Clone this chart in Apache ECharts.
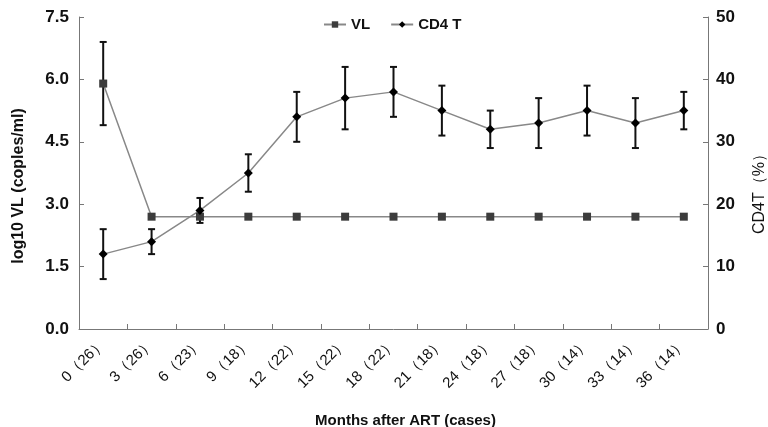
<!DOCTYPE html>
<html>
<head>
    <meta charset="utf-8">
    <title>VL / CD4 T</title>
    <script src="https://cdn.jsdelivr.net/npm/echarts@6/dist/echarts.min.js"></script>
    <style>
        body { margin: 0; background: #fff; }
        #main { width: 768px; height: 427px; }
    </style>
</head>
<body>
<div id="main"></div>
<script type="text/javascript">
    // months after ART (cases)
    var months = ['0（26）', '3（26）', '6（23）', '9（18）', '12（22）', '15（22）', '18（22）',
                  '21（18）', '24（18）', '27（18）', '30（14）', '33（14）', '36（14）'];
    // log10 VL mean and error
    var vlMean = [5.9, 2.7, 2.7, 2.7, 2.7, 2.7, 2.7, 2.7, 2.7, 2.7, 2.7, 2.7, 2.7];
    var vlErr  = [1.0, 0, 0, 0, 0, 0, 0, 0, 0, 0, 0, 0, 0];
    // CD4 T (%) mean and error
    var cd4Mean = [12, 14, 19, 25, 34, 37, 38, 35, 32, 33, 35, 33, 35];
    var cd4Err  = [4, 2, 2, 3, 4, 5, 4, 4, 3, 4, 4, 4, 3];
    // tick labels
    var vlTicks = [0, 1.5, 3.0, 4.5, 6.0, 7.5];
    var cd4Ticks = [0, 10, 20, 30, 40, 50];

    var font = 'Liberation Sans, Arial, sans-serif';

    function errData(mean, err) {
        var out = [];
        for (var i = 0; i < mean.length; i++) {
            out.push([i, mean[i] - err[i], mean[i] + err[i]]);
        }
        return out;
    }

    // 误差线：竖线 + 上下短横
    function renderErr(params, api) {
        var lo = api.value(1), hi = api.value(2);
        if (hi === lo) return null;
        var top = api.coord([api.value(0), hi]);
        var bot = api.coord([api.value(0), lo]);
        var cap = 3.5;
        var st = { stroke: '#111', lineWidth: 2 };
        return {
            type: 'group',
            children: [
                { type: 'line', shape: { x1: top[0], y1: top[1], x2: bot[0], y2: bot[1] }, style: st },
                { type: 'line', shape: { x1: top[0] - cap, y1: top[1], x2: top[0] + cap, y2: top[1] }, style: st },
                { type: 'line', shape: { x1: bot[0] - cap, y1: bot[1], x2: bot[0] + cap, y2: bot[1] }, style: st }
            ]
        };
    }

    var axisLine = { show: true, lineStyle: { color: '#777', width: 1 } };
    var axisTick = { show: true, inside: true, length: 5, lineStyle: { color: '#777' } };

    var myChart = echarts.init(document.getElementById('main'));
    var option = {
        animation: false,
        textStyle: { fontFamily: font },
        legend: {
            top: 12,
            left: 318,
            itemWidth: 22,
            itemHeight: 8,
            itemGap: 20,
            data: ['VL', 'CD4 T'],
            textStyle: { fontFamily: font, fontSize: 15, fontWeight: 'bold', color: '#111' }
        },
        grid: { left: 79, right: 60, top: 17, bottom: 98, outerBoundsMode: 'none', containLabel: false },
        xAxis: {
            type: 'category',
            data: months,
            boundaryGap: true,
            axisLine: axisLine,
            axisTick: axisTick,
            splitLine: { show: false },
            axisLabel: { rotate: 45, interval: 0, margin: 12, fontSize: 15, color: '#111', fontFamily: font },
            name: 'Months after ART (cases)',
            nameLocation: 'middle',
            nameGap: 84,
            nameTextStyle: { fontSize: 15, fontWeight: 'bold', color: '#111', fontFamily: font, padding: [0, 0, 0, 24] }
        },
        yAxis: [{
            type: 'value',
            min: vlTicks[0],
            max: vlTicks[vlTicks.length - 1],
            interval: 1.5,
            axisLine: axisLine,
            axisTick: axisTick,
            splitLine: { show: false },
            axisLabel: {
                margin: 10, fontSize: 17, fontWeight: 'bold', color: '#111', fontFamily: font,
                formatter: function (v) { return v.toFixed(1); }
            },
            name: 'log10 VL (coples/ml)',
            nameLocation: 'middle',
            nameGap: 52,
            nameRotate: 90,
            nameTextStyle: { fontSize: 16, fontWeight: 'bold', color: '#111', fontFamily: font, padding: [0, 26, 0, 0] }
        }, {
            type: 'value',
            min: cd4Ticks[0],
            max: cd4Ticks[cd4Ticks.length - 1],
            interval: 10,
            position: 'right',
            axisLine: axisLine,
            axisTick: axisTick,
            splitLine: { show: false },
            axisLabel: { margin: 8, fontSize: 17, fontWeight: 'bold', color: '#111', fontFamily: font },
            name: 'CD4T（%）',
            nameLocation: 'middle',
            nameGap: 44,
            nameRotate: 90,
            nameTextStyle: { fontSize: 16, color: '#111', fontFamily: font, padding: [0, 34, 0, 0] }
        }],
        series: [{
            name: 'VL-err',
            type: 'custom',
            yAxisIndex: 0,
            renderItem: renderErr,
            encode: { x: 0, y: [1, 2] },
            data: errData(vlMean, vlErr),
            z: 1
        }, {
            name: 'CD4-err',
            type: 'custom',
            yAxisIndex: 1,
            renderItem: renderErr,
            encode: { x: 0, y: [1, 2] },
            data: errData(cd4Mean, cd4Err),
            z: 1
        }, {
            name: 'VL',
            type: 'line',
            yAxisIndex: 0,
            data: vlMean,
            symbol: 'rect',
            symbolSize: 8,
            itemStyle: { color: '#3c3c3c' },
            lineStyle: { color: '#888', width: 1.5 },
            z: 3
        }, {
            name: 'CD4 T',
            type: 'line',
            yAxisIndex: 1,
            data: cd4Mean,
            symbol: 'diamond',
            symbolSize: 9,
            itemStyle: { color: '#000' },
            lineStyle: { color: '#888', width: 1.5 },
            z: 3
        }]
    };
    myChart.setOption(option);
</script>
</body>
</html>
